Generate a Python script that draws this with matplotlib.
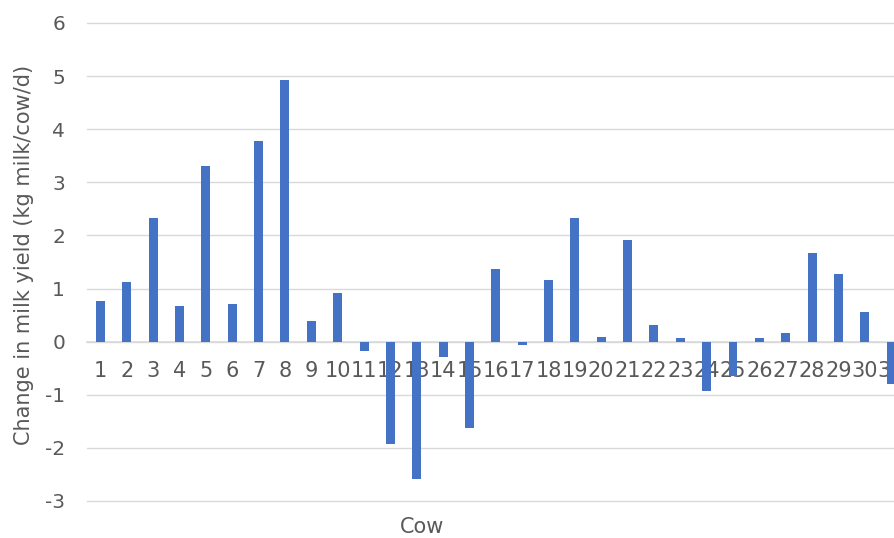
import matplotlib
matplotlib.use("Agg")
import matplotlib.pyplot as plt

# Change in milk yield per cow (kg milk/cow/d)
cows = list(range(1, 32))
change = [
    0.77, 1.13, 2.33, 0.68, 3.30, 0.70, 3.78, 4.93, 0.38, 0.92,
    -0.18, -1.93, -2.58, -0.28, -1.62, 1.36, -0.07, 1.17, 2.33, 0.09,
    1.92, 0.31, 0.07, -0.92, -0.65, 0.07, 0.17, 1.67, 1.28, 0.56,
    -0.80,
]
y_ticks = list(range(-3, 7))

BAR_COLOR = "#4472C4"
GRID_COLOR = "#D9D9D9"
TEXT_COLOR = "#595959"
W, H = 894, 538

fig = plt.figure(figsize=(W / 100, H / 100), dpi=100)
# the original picture is cropped on the right, so the axes run past the figure edge
ax = fig.add_axes([87.3 / W, 1 - 501 / H, 817 / W, (501 - 23) / H])

ax.bar(cows, change, width=0.34, color=BAR_COLOR, zorder=3)

ax.set_xlim(0.5, len(cows) + 0.5)
ax.set_ylim(-3, 6)
ax.set_yticks(y_ticks)
ax.set_yticklabels([str(v) for v in y_ticks])
ax.set_xticks(cows)
ax.set_xticklabels([str(c) for c in cows])

ax.grid(axis="y", color=GRID_COLOR, linewidth=1.0, zorder=0)
ax.set_axisbelow(True)
for gl in ax.get_ygridlines():
    gl.set_clip_on(False)

for side in ["top", "right", "left"]:
    ax.spines[side].set_visible(False)
ax.spines["bottom"].set_position(("data", 0))
ax.spines["bottom"].set_color(GRID_COLOR)
ax.spines["bottom"].set_linewidth(1.2)

ax.tick_params(axis="y", length=0, pad=16, labelsize=14.5, labelcolor=TEXT_COLOR)
ax.tick_params(axis="x", length=0, pad=14, labelsize=15, labelcolor=TEXT_COLOR)

fig.text(24 / W, 1 - 255 / H, "Change in milk yield (kg milk/cow/d)", rotation=90,
         ha="center", va="center", fontsize=15, color=TEXT_COLOR)
fig.text(422 / W, 1 - 527 / H, "Cow", ha="center", va="center",
         fontsize=15, color=TEXT_COLOR)

fig.savefig("out.png", dpi=100)
